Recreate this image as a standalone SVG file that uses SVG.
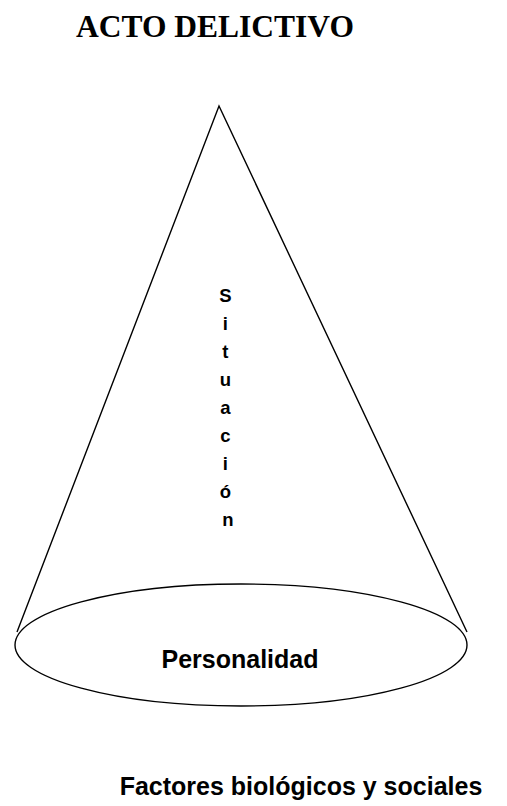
<svg xmlns="http://www.w3.org/2000/svg" width="507" height="806" viewBox="0 0 507 806">
<style>
.ln{fill:none;stroke:#000;stroke-width:1.4}
.sans{font-family:"Liberation Sans",Arial,sans-serif;font-weight:bold;fill:#000}
.serif{font-family:"Liberation Serif","Times New Roman",serif;font-weight:bold;fill:#000}
</style>
<rect width="507" height="806" fill="#fff"/>
<g id="title"><text class="serif" x="76" y="37" font-size="31.5">ACTO DELICTIVO</text></g>
<g id="cone">
<path class="ln" d="M17,632 L219,106 L467,632"/>
<ellipse class="ln" cx="241" cy="645" rx="226" ry="61"/>
</g>
<g id="situacion">
<text class="sans" font-size="18.5" text-anchor="middle">
<tspan x="228" y="302">S</tspan>
<tspan x="228" y="330">i</tspan>
<tspan x="228" y="358">t</tspan>
<tspan x="228" y="386">u</tspan>
<tspan x="228" y="414">a</tspan>
<tspan x="228" y="442">c</tspan>
<tspan x="228" y="470">i</tspan>
<tspan x="228" y="498">ó</tspan>
<tspan x="228" y="526">n</tspan>
</text>
</g>
<g id="personalidad"><text class="sans" x="240" y="668" font-size="25" text-anchor="middle">Personalidad</text></g>
<g id="factores"><text class="sans" x="301" y="795" font-size="25" text-anchor="middle">Factores biológicos y sociales</text></g>
</svg>
